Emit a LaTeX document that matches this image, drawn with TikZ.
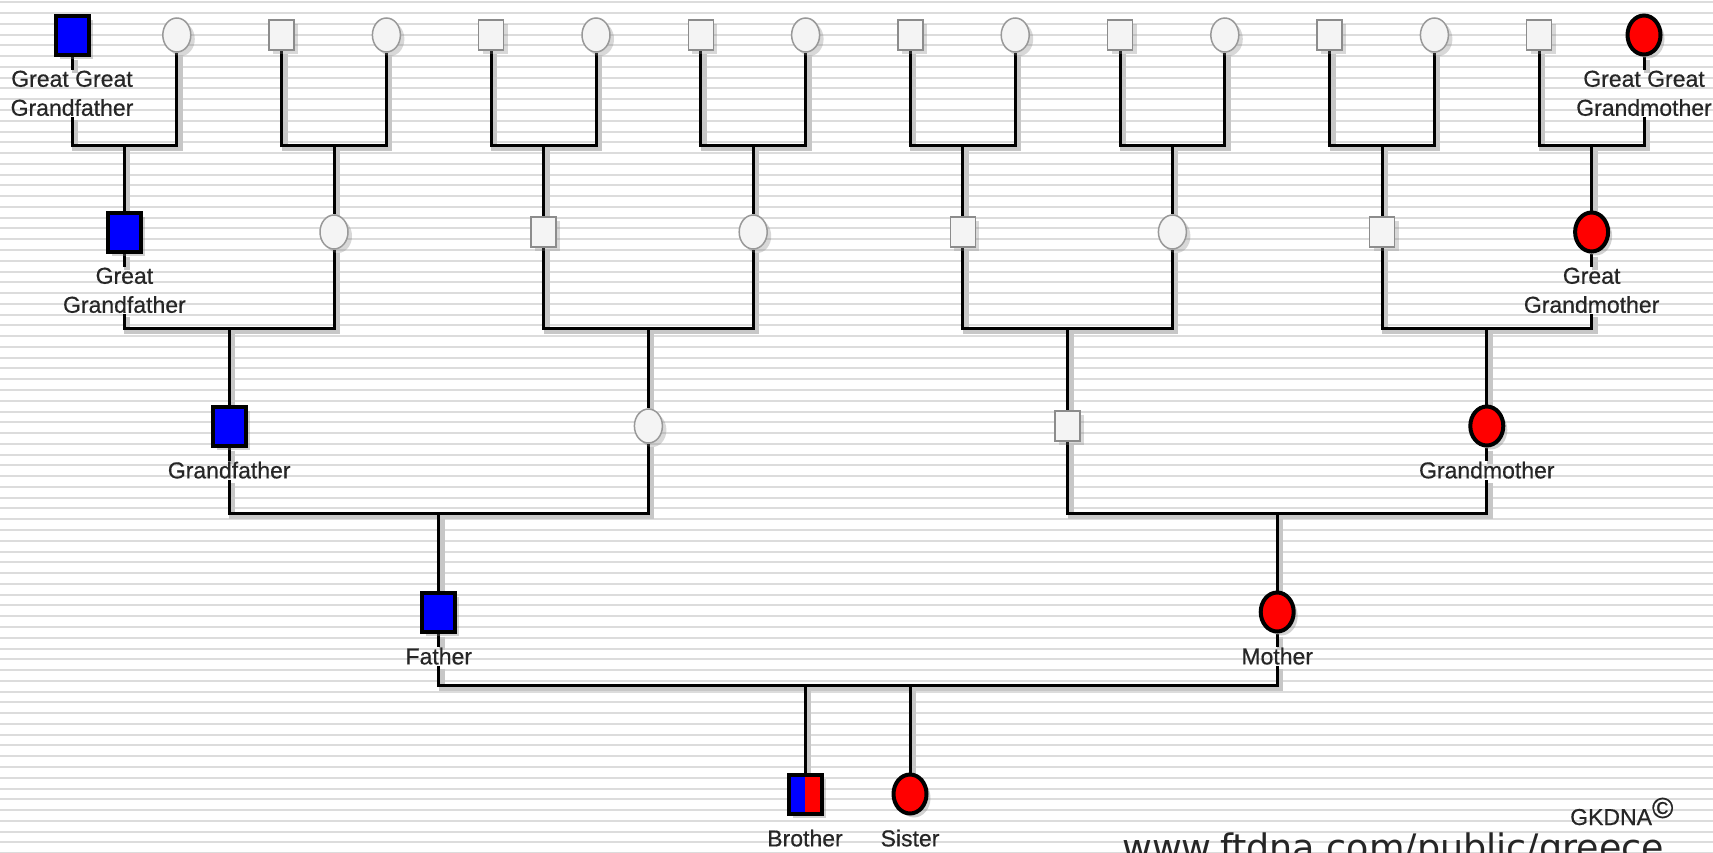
\documentclass[tikz,border=0pt]{standalone}
\usepackage{fontspec}
\setmainfont{Liberation Sans}
\newfontfamily\kinfont{Liberation Sans}[FakeBold=0.5]
\newfontfamily\sitefont{DejaVu Sans}
\usetikzlibrary{shapes.geometric, positioning, shadows, calc}
\definecolor{KinBlue}{HTML}{0000FF}
\definecolor{KinRed}{HTML}{FF0000}
\definecolor{StripeGray}{HTML}{DCDCDC}
\definecolor{BlankFill}{HTML}{F4F4F4}
\pgfdeclarelayer{backdrop}
\pgfdeclarelayer{wires}
\pgfsetlayers{backdrop,wires,main}
\tikzset{
  malebox/.style={rectangle, draw=black, line width=4pt, fill=KinBlue, minimum width=33pt, minimum height=39pt, inner sep=0pt, drop shadow={shadow xshift=4pt, shadow yshift=-4pt, opacity=0.35}},
  femalebox/.style={ellipse, draw=black, line width=4pt, fill=KinRed, minimum width=33pt, minimum height=39pt, inner sep=0pt, drop shadow={shadow xshift=4pt, shadow yshift=-4pt, opacity=0.35}},
  blankmale/.style={rectangle, draw=black!45, line width=1.5pt, fill=BlankFill, minimum width=25pt, minimum height=30pt, inner sep=0pt, drop shadow={shadow xshift=4pt, shadow yshift=-4pt, opacity=0.3}},
  blankfemale/.style={ellipse, draw=black!40, line width=1.5pt, fill=BlankFill, minimum width=28pt, minimum height=34pt, inner sep=0pt, drop shadow={shadow xshift=4pt, shadow yshift=-4pt, opacity=0.3}},
  brotherbox/.style={malebox, path picture={\fill[KinRed] (path picture bounding box.north) rectangle (path picture bounding box.south east);}},
  namelabel/.style={font=\kinfont\fontsize{23}{29}\selectfont, align=center, inner sep=1pt, text=black!85},
  link/.style={line width=3pt, black, preaction={draw=black!22, line width=6pt, transform canvas={xshift=3pt, yshift=-3pt}}},
  stripe/.style={StripeGray, line width=2pt}
}

\begin{document}
\begin{tikzpicture}[x=1pt, y=-1pt]
  \useasboundingbox (0,0) rectangle (1713,852);
  \clip (0,0) rectangle (1713,852);
  \begin{pgfonlayer}{backdrop}
    \fill[white] (0,0) rectangle (1713,852);
    \foreach \k in {0,...,79} {
      \draw[stripe] (0,{2.3+10.77*\k}) -- (1713,{2.3+10.77*\k});
    }
  \end{pgfonlayer}

  % great great grandparents
  \node[malebox] (a0) at (72,35) {};
  \foreach \i in {1,...,14} {
    \ifodd\i
      \node[blankfemale] (a\i) at ({72+104.8*\i},35) {};
    \else
      \node[blankmale] (a\i) at ({72+104.8*\i},35) {};
    \fi
  }
  \node[femalebox] (a15) at ({72+104.8*15},35) {};

  % great grandparents
  \node[malebox] (b0) at (124.4,232) {};
  \foreach \i in {1,...,6} {
    \ifodd\i
      \node[blankfemale] (b\i) at ({124.4+209.6*\i},232) {};
    \else
      \node[blankmale] (b\i) at ({124.4+209.6*\i},232) {};
    \fi
  }
  \node[femalebox] (b7) at ({124.4+209.6*7},232) {};

  % grandparents
  \node[malebox] (c0) at (229.2,426) {};
  \node[blankfemale] (c1) at (648.4,426) {};
  \node[blankmale] (c2) at (1067.6,426) {};
  \node[femalebox] (c3) at (1486.8,426) {};

  % parents and children
  \node[malebox] (d0) at (438.8,612) {};
  \node[femalebox] (d1) at (1277.2,612) {};
  \node[brotherbox] (bro) at (805,794) {};
  \node[femalebox] (sis) at (910,794) {};

  % labels
  \node[namelabel, below=13pt of a0] (a0l) {Great Great\\Grandfather};
  \node[namelabel, below=13pt of a15] (a15l) {Great Great\\Grandmother};
  \node[namelabel, below=13pt of b0] (b0l) {Great\\Grandfather};
  \node[namelabel, below=13pt of b7] (b7l) {Great\\Grandmother};
  \node[namelabel, below=13pt of c0] (c0l) {Grandfather};
  \node[namelabel, below=13pt of c3] (c3l) {Grandmother};
  \node[namelabel, below=13pt of d0] (d0l) {Father};
  \node[namelabel, below=13pt of d1] (d1l) {Mother};
  \node[namelabel, below=13pt of bro] (brol) {Brother};
  \node[namelabel, below=13pt of sis] (sisl) {Sister};

  \node[font=\kinfont\fontsize{23}{23}\selectfont, text=black!85, anchor=base west, inner sep=0pt] (mark) at (1570,825) {GKDNA\raisebox{7pt}{\fontsize{29}{29}\selectfont ©}};
  \node[font=\sitefont\fontsize{36.5}{36.5}\selectfont, text=black!85, anchor=base west, inner sep=0pt] (site) at (1122,860) {www.ftdna.com/public/greece};

  \begin{pgfonlayer}{wires}
    \foreach \n in {a0,a15,b0,b7,c0,c3,d0,d1} {
      \draw[link] (\n) -- (\n l);
    }
    \foreach \k/\p/\q in {0/a0l/a1, 1/a2/a3, 2/a4/a5, 3/a6/a7, 4/a8/a9, 5/a10/a11, 6/a12/a13, 7/a14/a15l} {
      \coordinate (ja\k) at (b\k |- 0,145);
      \draw[link] (\p) |- (ja\k) -| (\q);
      \draw[link] (ja\k) -- (b\k);
    }
    \foreach \k/\p/\q in {0/b0l/b1, 1/b2/b3, 2/b4/b5, 3/b6/b7l} {
      \coordinate (jb\k) at (c\k |- 0,328);
      \draw[link] (\p) |- (jb\k) -| (\q);
      \draw[link] (jb\k) -- (c\k);
    }
    \foreach \k/\p/\q in {0/c0l/c1, 1/c2/c3l} {
      \coordinate (jc\k) at (d\k |- 0,513);
      \draw[link] (\p) |- (jc\k) -| (\q);
      \draw[link] (jc\k) -- (d\k);
    }
    \coordinate (jbro) at (bro |- 0,685);
    \coordinate (jsis) at (sis |- 0,685);
    \draw[link] (d0l) |- (jbro) -- (jsis) -| (d1l);
    \draw[link] (jbro) -- (bro);
    \draw[link] (jsis) -- (sis);
  \end{pgfonlayer}
\end{tikzpicture}
\end{document}
